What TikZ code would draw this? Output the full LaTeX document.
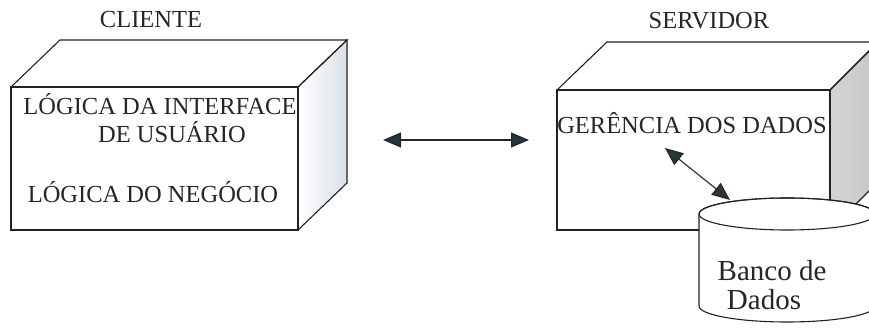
\documentclass[tikz,border=0pt]{standalone}
\usepackage{fontspec}
\setmainfont{Liberation Serif}
\usetikzlibrary{arrows.meta}
\definecolor{edge}{HTML}{222222}
\definecolor{tipcol}{HTML}{26363C}
\definecolor{sideblue}{HTML}{D9E1E8}
\definecolor{sidegray}{HTML}{C6C6C6}
\tikzset{
  boxline/.style={draw=edge, line width=1.1pt, line join=miter},
  label/.style={inner sep=0pt, anchor=base, text=black!85},
  title/.style={label, font=\fontsize{24.5}{28}\selectfont},
  body/.style={label, font=\fontsize{24.5}{28}\selectfont},
  dbtext/.style={label, font=\fontsize{29}{33}\selectfont},
  link/.style={draw=black!85, line width=1.1pt,
    {Triangle[length=18pt,width=15pt,fill=tipcol]}-{Triangle[length=18pt,width=15pt,fill=tipcol]}},
}
\begin{document}
\begin{tikzpicture}[x=1pt,y=-1pt]
\useasboundingbox (0,0) rectangle (869,328);
\clip (0,0) rectangle (869,328);

% client box
\coordinate (cA) at (11,87);  \coordinate (cB) at (298,87);
\coordinate (cC) at (298,230); \coordinate (cD) at (11,230);
\coordinate (cE) at (60,40);  \coordinate (cF) at (347,40);
\coordinate (cG) at (347,183);
\shade[left color=white, right color=sideblue] (cB) -- (cF) -- (cG) -- (cC) -- cycle;
\draw[boxline] (cA) -- (cE) -- (cF) -- (cB);
\draw[boxline] (cB) -- (cF) -- (cG) -- (cC);
\draw[boxline, fill=white] (cA) rectangle (cC);

% server box
\coordinate (sA) at (557,90);  \coordinate (sB) at (830,90);
\coordinate (sC) at (830,230); \coordinate (sD) at (557,230);
\coordinate (sE) at (607,42);  \coordinate (sF) at (878,42);
\coordinate (sG) at (878,182);
\shade[left color=sidegray!75, right color=sidegray] (sB) -- (sF) -- (sG) -- (sC) -- cycle;
\draw[boxline] (sA) -- (sE) -- (sF) -- (sB);
\draw[boxline] (sB) -- (sF) -- (sG) -- (sC);
\draw[boxline, fill=white] (sA) rectangle (sC);

% titles
\node[title] (cliente) at (151,28) {CLIENTE};
\node[title] (servidor) at (709,29) {SERVIDOR};

% client layers
\node[body] (interface) at (160,115) {LÓGICA DA INTERFACE};
\node[body] (usuario) at (172,143) {DE USUÁRIO};
\node[body] (negocio) at (153,203) {LÓGICA DO NEGÓCIO};

% server layer
\node[body] (gerencia) at (692,134) {GERÊNCIA DOS DADOS};

% database cylinder
\coordinate (dbTop) at (787,214);
\coordinate (dbBot) at (787,306);
\draw[boxline, fill=white]
  (699,214) -- (699,306) arc[start angle=180, end angle=0, x radius=88, y radius=16]
  -- (875,214) arc[start angle=0, end angle=-180, x radius=88, y radius=16] -- cycle;
\draw[boxline] (dbTop) ellipse[x radius=88, y radius=16];
\node[dbtext] (banco) at (772,281) {Banco de};
\node[dbtext] (dados) at (764,309) {Dados};

% connectors
\coordinate (linkL) at (383,140);
\coordinate (linkR) at (529,140);
\draw[link] (linkL) -- (linkR);
\coordinate (gerTip) at (665,148);
\coordinate (dbTip) at (730,200);
\draw[link] (gerTip) -- (dbTip);
\end{tikzpicture}
\end{document}
